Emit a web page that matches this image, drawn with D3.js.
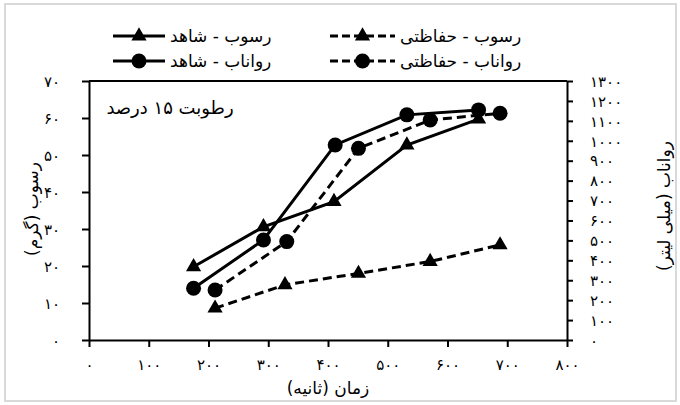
<!DOCTYPE html>
<html>
<head>
<meta charset="utf-8">
<script src="https://cdn.jsdelivr.net/npm/d3@7"></script>
<style>
  body { margin: 0; background: #fff; }
  svg { display: block; }
  text { font-family: "DejaVu Sans", sans-serif; fill: #000; }
</style>
</head>
<body>
<svg id="chart" width="680" height="405"></svg>
<script>
// data
const xTicks = [0, 100, 200, 300, 400, 500, 600, 700, 800];
const leftTicks = [0, 10, 20, 30, 40, 50, 60, 70];
const rightTicks = [0, 100, 200, 300, 400, 500, 600, 700, 800, 900, 1000, 1100, 1200, 1300];

const timeSedControl = [175, 292, 410, 532, 652];
const sedControl = [19.8, 30.6, 37.4, 52.7, 59.7];
const timeSedProt = [211, 328, 451, 571, 688];
const sedProt = [8.6, 14.9, 18.0, 21.2, 25.7];
const timeRunControl = [175, 292, 412, 532, 652];
const runControl = [260, 502, 979, 1130, 1155];
const timeRunProt = [211, 331, 451, 571, 688];
const runProt = [251, 494, 962, 1104, 1138];

const legendNames = ["رسوب - شاهد", "رسوب - حفاظتی", "رواناب - شاهد", "رواناب - حفاظتی"];

const faDigits = "۰۱۲۳۴۵۶۷۸۹";
const fa = n => String(n).replace(/\d/g, d => faDigits[d]);

const svg = d3.select("#chart");

// light outer frame
svg.append("rect")
    .attr("x", 5).attr("y", 4)
    .attr("width", 671).attr("height", 397)
    .attr("fill", "none")
    .attr("stroke", "#d9d9d9")
    .attr("stroke-width", 2);

const plotLeft = 89, plotRight = 567, plotTop = 81, plotBottom = 340;

const x = d3.scaleLinear().domain([0, 800]).range([plotLeft, plotRight]);
const yL = d3.scaleLinear().domain([0, 70]).range([plotBottom, plotTop]);
const yR = d3.scaleLinear().domain([0, 1300]).range([plotBottom, plotTop]);

// axes
const gx = svg.append("g")
    .attr("transform", `translate(0,${plotBottom})`)
    .call(d3.axisBottom(x).tickValues(xTicks).tickFormat(fa).tickSize(7).tickSizeOuter(0));
gx.selectAll("text").attr("y", 25).attr("dy", "0.35em");

const gl = svg.append("g")
    .attr("transform", `translate(${plotLeft},0)`)
    .call(d3.axisLeft(yL).tickValues(leftTicks).tickFormat(fa).tickSize(7).tickSizeOuter(0));
gl.selectAll("text").attr("x", -29).attr("dy", "0.35em");

const gr = svg.append("g")
    .attr("transform", `translate(${plotRight},0)`)
    .call(d3.axisRight(yR).tickValues(rightTicks).tickFormat(fa).tickSize(6).tickSizeOuter(0));
gr.selectAll("text").attr("x", 23).attr("dy", "0.35em");

[gx, gl, gr].forEach(g => {
    g.selectAll("path, line").attr("stroke", "#000").attr("stroke-width", 2);
    g.selectAll("text").style("font-size", "15px").style("font-family", "DejaVu Sans");
});

// top border of the plot
svg.append("line")
    .attr("x1", plotLeft).attr("x2", plotRight)
    .attr("y1", plotTop).attr("y2", plotTop)
    .attr("stroke", "#000").attr("stroke-width", 2);

// axis titles
svg.append("text")
    .attr("x", (plotLeft + plotRight) / 2).attr("y", 388)
    .attr("direction", "rtl")
    .attr("text-anchor", "middle")
    .attr("dy", "0.35em")
    .style("font-size", "17px")
    .text("زمان (ثانیه)");

svg.append("text")
    .attr("transform", "translate(32,209) rotate(-90)")
    .attr("direction", "rtl")
    .attr("text-anchor", "middle")
    .attr("dy", "0.35em")
    .style("font-size", "17px")
    .text("رسوب (گرم)");

svg.append("text")
    .attr("transform", "translate(664,206) rotate(-90)")
    .attr("direction", "rtl")
    .attr("text-anchor", "middle")
    .attr("dy", "0.35em")
    .style("font-size", "17px")
    .text("رواناب (میلی لیتر)");

svg.append("text")
    .attr("x", 170).attr("y", 108)
    .attr("direction", "rtl")
    .attr("text-anchor", "middle")
    .attr("dy", "0.35em")
    .style("font-size", "18px")
    .text("رطوبت ۱۵ درصد");

// series
const series = [
    { xs: timeSedControl, ys: sedControl, y: yL, dash: null, shape: "tri" },
    { xs: timeSedProt, ys: sedProt, y: yL, dash: "9,5", shape: "tri" },
    { xs: timeRunControl, ys: runControl, y: yR, dash: null, shape: "circ" },
    { xs: timeRunProt, ys: runProt, y: yR, dash: "9,5", shape: "circ" }
];

const tri = d3.symbol().type(d3.symbolTriangle).size(100);

function marker(g, shape, cx, cy) {
    if (shape === "tri") {
        g.append("path").attr("d", tri).attr("transform", `translate(${cx},${cy})`).attr("fill", "#000");
    } else {
        g.append("circle").attr("cx", cx).attr("cy", cy).attr("r", 7.5).attr("fill", "#000");
    }
}

const line = d3.line();
series.forEach(s => {
    const pts = s.xs.map((v, i) => [x(v), s.y(s.ys[i])]);
    svg.append("path")
        .attr("d", line(pts))
        .attr("fill", "none")
        .attr("stroke", "#000")
        .attr("stroke-width", 3)
        .attr("stroke-dasharray", s.dash);
    const g = svg.append("g");
    pts.forEach(p => marker(g, s.shape, p[0], p[1]));
});

// legend
const legendPos = [
    { x1: 113, x2: 165, tx: 170, y: 36 },
    { x1: 330, x2: 395, tx: 400, y: 36 },
    { x1: 113, x2: 165, tx: 170, y: 61 },
    { x1: 330, x2: 395, tx: 400, y: 61 }
];
series.forEach((s, i) => {
    const p = legendPos[i];
    const g = svg.append("g");
    g.append("line")
        .attr("x1", p.x1).attr("x2", p.x2)
        .attr("y1", p.y).attr("y2", p.y)
        .attr("stroke", "#000").attr("stroke-width", 3)
        .attr("stroke-dasharray", s.dash ? "8,4" : null);
    marker(g, s.shape, (p.x1 + p.x2) / 2, p.y);
    g.append("text")
        .attr("x", p.tx).attr("y", p.y)
        .attr("direction", "rtl")
        .attr("text-anchor", "end")
        .attr("dy", "0.35em")
        .style("font-size", "17px")
        .text(legendNames[i]);
});
</script>
</body>
</html>
